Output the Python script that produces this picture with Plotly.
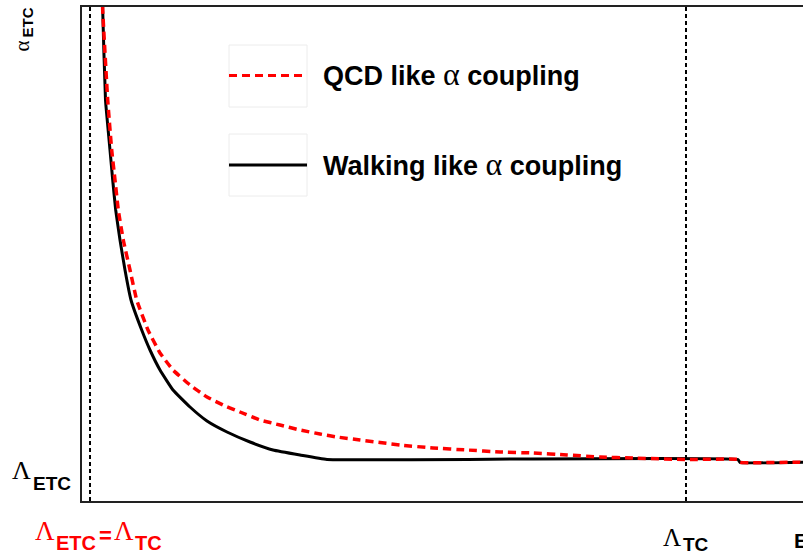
import plotly.graph_objects as go

# ---- data (arbitrary energy / coupling units) ----
walking_x = [20, 20.7, 23.5, 28, 30.7, 33.7, 38, 43, 49, 59.7, 68, 78, 91, 108, 125, 145, 168, 191,
             218, 245, 656, 658, 721]
walking_y = [521, 491, 401, 351, 321, 291, 261, 231, 201, 171, 151, 131, 111, 94, 80, 69, 59, 51,
             46, 41.5, 41.5, 38.7, 38.7]

qcd_x = [20, 20.7, 25.7, 29.7, 33, 36.3, 41.3, 48, 54.7, 66, 78, 91, 108, 125, 141, 158, 178, 198,
         218, 238, 255, 278, 318, 351, 385, 418, 451, 485, 518, 551, 604, 656, 658, 718, 721]
qcd_y = [521, 491, 401, 351, 321, 291, 261, 231, 201, 171, 148, 131, 116, 104, 96, 89, 81, 76,
         71, 67, 64, 61, 56, 53, 51, 49, 48, 46, 44, 43, 41.5, 41.5, 38.7, 38.7, 37.5]

scale_lines_x = [8, 604]          # Lambda_ETC = Lambda_TC  and  Lambda_TC
x_range = [0, 721]
y_range = [0, 494]

W, H = 803, 554
L, R, T, B = 82, 0, 7, 53


def px(x):
    return (x - L) / (W - L - R)


def py(y):
    return (H - B - y) / (H - T - B)


fig = go.Figure()
fig.add_trace(go.Scatter(x=walking_x, y=walking_y, mode="lines", line_shape="spline",
                         line=dict(color="black", width=3, smoothing=0.35), showlegend=False))
fig.add_trace(go.Scatter(x=qcd_x, y=qcd_y, mode="lines", line_shape="spline",
                         line=dict(color="#ff0000", width=3.5, dash="8px,5px", smoothing=0.35),
                         showlegend=False))

for xv in scale_lines_x:
    fig.add_shape(type="line", xref="x", yref="paper", x0=xv, x1=xv, y0=0, y1=1,
                  line=dict(color="black", width=2, dash="4px,3px"))

# legend boxes and sample lines
for (y0, y1) in [(45, 107), (134, 196)]:
    fig.add_shape(type="rect", xref="paper", yref="paper", x0=px(229), x1=px(307),
                  y0=py(y1), y1=py(y0), line=dict(color="#ececec", width=1), fillcolor="white")
fig.add_shape(type="line", xref="paper", yref="paper", x0=px(229), x1=px(306), y0=py(75.5), y1=py(75.5),
              line=dict(color="#ff0000", width=3, dash="8px,5px"))
fig.add_shape(type="line", xref="paper", yref="paper", x0=px(229), x1=px(307), y0=py(165), y1=py(165),
              line=dict(color="black", width=3))

SANS = "Liberation Sans"
SERIF = "Liberation Serif"


def ann(text, x, y, size, family=SANS, color="black", angle=0, xanchor="center"):
    fig.add_annotation(text=text, x=px(x), y=py(y), xref="paper", yref="paper",
                       showarrow=False, xanchor=xanchor, yanchor="middle", textangle=angle,
                       borderpad=0, font=dict(family=family, size=size, color=color))


alpha_span = '<span style="font-family:Liberation Serif;font-size:32px">α</span>'
ann('<b>QCD like </b>' + alpha_span + '<b> coupling</b>', 322, 74, 27, xanchor="left")
ann('<b>Walking like </b>' + alpha_span + '<b> coupling</b>', 322, 164, 27, xanchor="left")

# y-axis label alpha_ETC (rotated)
ann('α', 21.5, 46, 21, family=SERIF, angle=-90)
ann('<b>ETC</b>', 27.5, 23, 15, angle=-90)

# Lambda_ETC on the y axis
ann('Λ', 21, 470, 26, family=SERIF)
ann('<b>ETC</b>', 52, 483, 19)

# red Lambda_ETC = Lambda_TC
RED = "#ff0000"
ann('Λ', 45, 531, 27, family=SERIF, color=RED)
ann('<b>ETC</b>', 76, 543, 20, color=RED)
ann('<b>=</b>', 105, 535, 22, color=RED)
ann('Λ', 124, 531, 27, family=SERIF, color=RED)
ann('<b>TC</b>', 148.5, 543, 20, color=RED)

# Lambda_TC
ann('Λ', 672, 537.5, 25, family=SERIF)
ann('<b>TC</b>', 695.5, 544, 19)

# x-axis title "E" (cut off at the right)
ann('<b>E</b>', 793, 540.5, 21, xanchor="left")

fig.update_layout(
    width=W, height=H,
    margin=dict(l=L, r=R, t=T, b=B),
    paper_bgcolor="white", plot_bgcolor="white",
    xaxis=dict(range=x_range, showgrid=False, zeroline=False, showticklabels=False, ticks="",
               showline=True, linecolor="#222", linewidth=1.5, mirror=True),
    yaxis=dict(range=y_range, showgrid=False, zeroline=False, showticklabels=False, ticks="",
               showline=True, linecolor="#222", linewidth=1.5, mirror=False),
    showlegend=False,
)

fig.write_html("out.html", config={"displayModeBar": False},
               post_script="document.body.style.margin='0';document.body.style.overflow='hidden';")
